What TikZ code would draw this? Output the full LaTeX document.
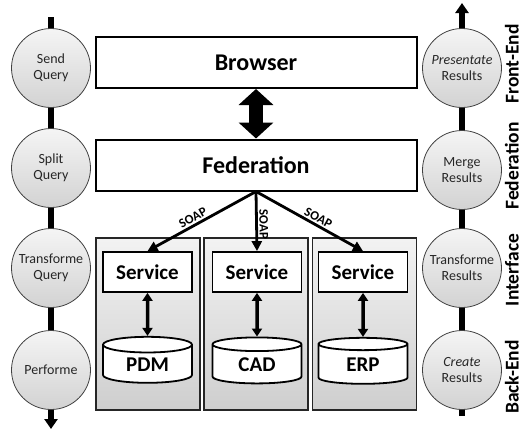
\documentclass[tikz,border=0pt]{standalone}
\usepackage{fontspec}
\setmainfont{Carlito}
\usetikzlibrary{shapes.geometric,arrows.meta}

\begin{document}
\begin{tikzpicture}[x=1pt, y=-1pt,
    phase/.style={circle, draw=black!75, line width=0.8pt, top color=gray!8, bottom color=gray!35,
        minimum size=79pt, inner sep=1pt, align=center,
        font=\fontsize{14}{16}\selectfont, text=black!85},
    layer/.style={rectangle, draw=black, line width=2pt, fill=white,
        minimum width=321pt, minimum height=51pt,
        font=\fontsize{24}{28}\selectfont\bfseries},
    panel/.style={rectangle, draw=black!85, line width=1.5pt,
        top color=gray!10, bottom color=gray!38,
        minimum width=104pt, minimum height=172pt},
    service/.style={rectangle, draw=black, line width=1.8pt, fill=white,
        minimum width=89pt, minimum height=40pt,
        font=\fontsize{21}{24}\selectfont\bfseries},
    store/.style={cylinder, shape border rotate=90, aspect=0.35, draw=black,
        line width=1.8pt, fill=white, minimum width=89pt, minimum height=46pt,
        inner sep=1pt, font=\fontsize{21}{24}\selectfont\bfseries},
    tier/.style={rotate=90, anchor=base, inner sep=0pt,
        font=\fontsize{19.5}{24}\selectfont\bfseries},
    flowline/.style={line width=6pt, draw=black},
    tipend/.style={-{Triangle[length=10pt,width=13pt]}},
    soap/.style={line width=2.8pt, -{Triangle[length=10pt,width=10pt]}},
    link/.style={line width=3.5pt, {Triangle[length=8pt,width=10pt]}-{Triangle[length=8pt,width=10pt]}},
    soaplabel/.style={sloped, above, inner sep=1.5pt, pos=0.55,
        font=\fontsize{13}{15}\selectfont\bfseries}
]
    \useasboundingbox (0,0) rectangle (522,432);

    \node[phase] (sq) at (51,68) {Send\\Query};
    \node[phase] (spq) at (51,168) {Split\\Query};
    \node[phase] (tq) at (51,268) {Transforme\\Query};
    \node[phase] (pf) at (51,370) {Performe};
    \coordinate (ltop) at (51,17);
    \coordinate (lbot) at (51,429);

    \node[phase] (pr) at (462,68) {\textit{Presentate}\\Results};
    \node[phase] (mr) at (462,170) {Merge\\Results};
    \node[phase] (tr) at (462,268) {Transforme\\Results};
    \node[phase] (cr) at (462,370) {\textit{Create}\\Results};
    \coordinate (rtop) at (462,3);
    \coordinate (rbot) at (462,416);

    \node[tier] (fe) at (518.5,64) {Front-End};
    \node[tier] (fd) at (518.5,166) {Federation};
    \node[tier] (it) at (518.5,270) {Interface};
    \node[tier] (be) at (518.5,377) {Back-End};

    \node[layer] (browser) at (256,62.5) {Browser};
    \node[layer] (federation) at (256,165) {Federation};

    \node[panel] (p1) at (148,324) {};
    \node[panel] (p2) at (256,324) {};
    \node[panel] (p3) at (364.5,324) {};

    \node[service] (s1) at (147.5,272) {Service};
    \node[service] (s2) at (257,272) {Service};
    \node[service] (s3) at (363,272) {Service};

    \node[store] (pdm) at (147.5,365) {PDM};
    \node[store] (cad) at (257,365) {CAD};
    \node[store] (erp) at (363,365) {ERP};

    \draw[flowline] (ltop) -- (sq);
    \draw[flowline] (sq) -- (spq);
    \draw[flowline] (spq) -- (tq);
    \draw[flowline] (tq) -- (pf);
    \draw[flowline, tipend] (pf) -- (lbot);
    \draw[flowline] (rbot) -- (cr);
    \draw[flowline] (cr) -- (tr);
    \draw[flowline] (tr) -- (mr);
    \draw[flowline] (mr) -- (pr);
    \draw[flowline, tipend] (pr) -- (rtop);

    \draw[line width=14pt, {Triangle[length=16pt,width=34pt]}-{Triangle[length=16pt,width=34pt]}]
        (browser) -- (federation);

    \draw[soap] (federation.south) -- (s1.north) node[soaplabel] {SOAP};
    \draw[soap] (federation.south) -- (s2.north) node[soaplabel] {SOAP};
    \draw[soap] (federation.south) -- (s3.north) node[soaplabel] {SOAP};

    \draw[link] (s1) -- (pdm);
    \draw[link] (s2) -- (cad);
    \draw[link] (s3) -- (erp);
\end{tikzpicture}
\end{document}
